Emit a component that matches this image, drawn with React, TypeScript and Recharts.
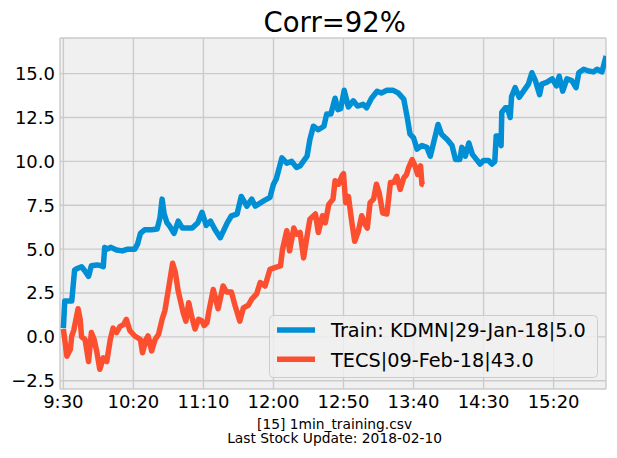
import { CartesianGrid, Legend, Line, LineChart, XAxis, YAxis } from "recharts";

const FONT = "DejaVu Sans, sans-serif";
const BLUE = "#008fd5";
const RED = "#fc4f30";

// minutes after 9:30 and price change
const trainMinutes = [
  0, 1, 6, 8, 10, 13, 15, 18, 20, 24, 27, 28.5, 29.5, 31, 34, 38, 42, 46, 51, 53, 55, 58, 63, 67, 69, 70.5, 72, 74,
  76, 79, 82, 85, 88, 92, 96, 99, 102, 105, 108, 112, 117, 120, 124, 127, 131, 134.5, 137, 143, 147.5, 150, 152,
  156, 159.5, 163, 166.5, 169, 174, 176, 178.5, 182, 186, 188, 191, 194, 196, 198, 200.5, 203.5, 207, 210, 214,
  216.5, 220, 224, 227, 231, 235.5, 239, 243, 245.5, 247.5, 250, 252.5, 256, 259.5, 262, 264, 267.5, 270, 274,
  277.5, 280, 283, 284.5, 287, 289.5, 292, 294, 297.5, 300, 303.5, 306, 308, 309, 310.5, 312.5, 313, 315.5, 317,
  319, 320, 322.5, 325.5, 328.5, 332, 334.5, 337, 340, 341.5, 345, 349, 352, 354, 356.5, 359.5, 363, 366, 368,
  371.5, 375, 378.5, 381, 384.5, 387.5,
];
const trainValues = [
  0.5, 2.05, 2.05, 3.8, 3.9, 4.0, 3.8, 3.45, 4.05, 4.1, 4.05, 4.0, 5.1, 5.0, 5.1, 4.95, 4.9, 5.0, 5.0, 5.3, 5.9, 6.1,
  6.1, 6.15, 6.8, 7.85, 7.0, 6.5, 6.3, 5.9, 6.6, 6.2, 6.2, 6.2, 6.5, 7.1, 6.35, 6.6, 6.15, 5.65, 6.5, 6.9, 7.0, 8.0,
  7.45, 7.85, 7.45, 7.75, 7.95, 8.7, 9.0, 10.2, 9.9, 10.0, 9.65, 9.75, 10.3, 11.25, 12.0, 11.8, 12.0, 12.7, 12.7,
  13.6, 12.95, 13.0, 14.05, 13.1, 13.45, 13.15, 13.25, 13.05, 13.6, 14.0, 13.9, 14.05, 14.05, 13.9, 13.55, 12.5,
  11.55, 11.35, 10.7, 10.9, 10.8, 10.3, 10.95, 12.1, 11.55, 11.25, 10.9, 10.1, 10.1, 10.8, 10.3, 11.05, 10.4, 10.2,
  9.85, 10.05, 10.05, 9.85, 10.0, 11.45, 11.45, 10.9, 12.8, 13.05, 13.05, 12.5, 13.7, 14.2, 13.65, 14.0, 14.4, 15.05,
  14.6, 13.8, 14.4, 14.5, 14.7, 14.3, 14.85, 14.0, 14.7, 14.6, 14.2, 15.05, 15.25, 15.15, 15.1, 15.25, 15.1, 16.0,
];

const testMinutes = [
  0, 2.5, 5, 6, 7.5, 10.5, 12, 13, 15.5, 18, 20, 22, 24, 26, 28.5, 31, 33.5, 35.5, 38, 40.5, 43, 45, 47.5, 51, 55,
  56.5, 59, 60.5, 63, 65.5, 68, 70.5, 72.5, 75, 78, 80, 82, 85.5, 87.5, 89.5, 91.5, 94, 96.5, 99, 100.5, 102.5, 104,
  107, 110.5, 114, 116.5, 120, 122.5, 126, 128.5, 132, 134.5, 138, 140.5, 144, 147.5, 151, 155, 156.5, 159.5, 161.5,
  164.5, 166.5, 169, 171.5, 174, 176, 180, 182, 185, 187, 189.5, 192.5, 194, 196.5, 199, 200, 201.5, 203.5, 206,
  208, 210.5, 213, 215.5, 217, 219, 221.5, 223.5, 225.5, 228, 231, 233.5, 236, 238, 240.5, 243, 245, 246.5, 249,
  251, 253, 255, 256, 257.5,
];
const testValues = [
  0.45, -1.1, -0.7, 0.05, 0.4, 1.6, 1.0, 0.0, -0.15, -1.4, 0.25, -0.15, -0.9, -1.85, -1.2, -1.4, -0.15, 0.5, 0.25,
  0.6, 0.7, 1.0, 0.35, 0.05, -0.15, -0.9, -0.15, 0.05, -0.8, -0.15, 0.15, 1.0, 1.5, 2.7, 4.2, 3.65, 2.6, 1.4, 0.9,
  1.95, 1.2, 0.45, 1.0, 0.9, 0.65, 0.8, 1.5, 2.7, 1.6, 2.9, 2.55, 2.55, 1.8, 0.9, 1.65, 1.8, 2.15, 2.45, 3.1, 2.9,
  3.85, 3.95, 4.05, 5.0, 6.05, 4.9, 6.2, 5.85, 5.95, 4.5, 5.75, 6.7, 7.0, 5.95, 6.9, 6.5, 7.55, 7.85, 8.9, 8.7, 9.2,
  9.3, 7.65, 8.0, 6.5, 5.45, 6.0, 6.9, 6.4, 6.2, 7.65, 7.85, 8.7, 8.2, 7.05, 7.0, 8.8, 8.8, 9.15, 8.4, 9.05, 9.25,
  9.65, 10.1, 9.75, 9.25, 9.75, 8.7, 8.65,
];

const xTicks = [0, 50, 100, 150, 200, 250, 300, 350];
const yTicks = [-2.5, 0, 2.5, 5, 7.5, 10, 12.5, 15];

const trainName = "Train: KDMN|29-Jan-18|5.0";
const testName = "TECS|09-Feb-18|43.0";

const trainData = trainMinutes.map((m, i) => ({ m, v: trainValues[i] }));
const testData = testMinutes.map((m, i) => ({ m, v: testValues[i] }));

const timeLabel = (m: number) => {
  const total = 9 * 60 + 30 + m;
  const h = Math.floor(total / 60);
  const mm = total % 60;
  return `${h}:${mm < 10 ? "0" : ""}${mm}`;
};

const yLabel = (v: number) => (v < 0 ? `\u2212${Math.abs(v).toFixed(1)}` : v.toFixed(1));

function ChartLegend() {
  const rows = [
    { name: trainName, color: BLUE, line: 15, base: 22.3 },
    { name: testName, color: RED, line: 44.3, base: 51.7 },
  ];
  return (
    <svg width={329} height={63} style={{ display: "block" }}>
      <rect x={0.5} y={0.5} width={328} height={62} rx={4} fill="rgba(240,240,240,0.8)" stroke="#cccccc" />
      {rows.map((r) => (
        <g key={r.name}>
          <line x1={8} x2={46} y1={r.line} y2={r.line} stroke={r.color} strokeWidth={5.5} />
          <text x={62} y={r.base} fontFamily={FONT} fontSize={19.3} fill="#000">
            {r.name}
          </text>
        </g>
      ))}
    </svg>
  );
}

export default function App() {
  return (
    <div style={{ position: "absolute", left: 0, top: 0, width: 617, height: 458, background: "#fff" }}>
      <LineChart width={617} height={458} margin={{ top: 38, right: 11, bottom: 0, left: 0 }}>
        <CartesianGrid fill="#f0f0f0" stroke="#cbcbcb" strokeWidth={1.4} />
        <XAxis
          dataKey="m"
          type="number"
          domain={[-2.4, 387.4]}
          allowDataOverflow
          ticks={xTicks}
          tickFormatter={timeLabel}
          axisLine={false}
          tickLine={false}
          tickSize={0}
          tickMargin={6}
          height={69}
          tick={{ fill: "#000", fontSize: 18, fontFamily: FONT }}
        />
        <YAxis
          type="number"
          domain={[-2.97, 17.03]}
          allowDataOverflow
          ticks={yTicks}
          tickFormatter={yLabel}
          axisLine={false}
          tickLine={false}
          tickSize={0}
          tickMargin={5}
          width={60}
          tick={{ fill: "#000", fontSize: 18, fontFamily: FONT }}
        />
        <Line
          data={trainData}
          dataKey="v"
          name={trainName}
          stroke={BLUE}
          strokeWidth={5.5}
          strokeLinejoin="round"
          dot={false}
          activeDot={false}
          isAnimationActive={false}
        />
        <Line
          data={testData}
          dataKey="v"
          name={testName}
          stroke={RED}
          strokeWidth={5.5}
          strokeLinejoin="round"
          dot={false}
          activeDot={false}
          isAnimationActive={false}
        />
        <Legend
          layout="vertical"
          align="center"
          verticalAlign="middle"
          content={<ChartLegend />}
          wrapperStyle={{ left: 269, top: 315, width: 329, height: 63 }}
        />
      </LineChart>
      <svg
        width={617}
        height={458}
        style={{ position: "absolute", left: 0, top: 0, pointerEvents: "none" }}
      >
        <text x={334.7} y={31.7} textAnchor="middle" fontFamily={FONT} fontSize={27.5} fill="#000">
          Corr=92%
        </text>
        <text x={334.6} y={428.5} textAnchor="middle" fontFamily={FONT} fontSize={13.8} fill="#000">
          [15] 1min_training.csv
        </text>
        <text x={334.6} y={443} textAnchor="middle" fontFamily={FONT} fontSize={13.8} fill="#000">
          Last Stock Update: 2018-02-10
        </text>
      </svg>
    </div>
  );
}
